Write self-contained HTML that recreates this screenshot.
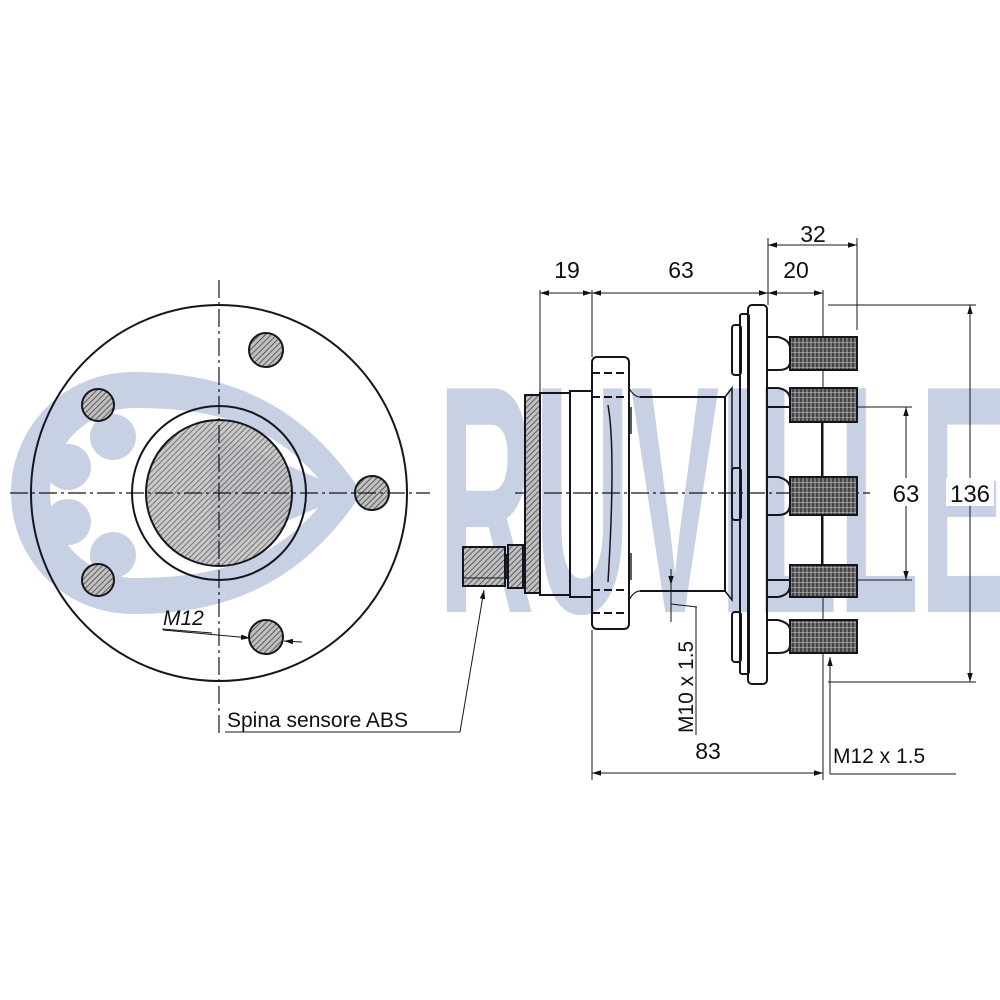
<!DOCTYPE html>
<html><head><meta charset="utf-8"><style>html,body{margin:0;padding:0;background:#fff}svg{display:block}</style></head>
<body>
<svg width="1000" height="1000" viewBox="0 0 1000 1000" xmlns="http://www.w3.org/2000/svg">
<defs>
<pattern id="h" width="4" height="4" patternUnits="userSpaceOnUse" patternTransform="rotate(45)">
<rect width="4" height="4" fill="#c0c0c0"/><line x1="0" y1="0" x2="0" y2="4" stroke="#333" stroke-width="1.4"/></pattern>
<pattern id="t" width="4" height="5" patternUnits="userSpaceOnUse">
<rect width="4" height="5" fill="#777"/><line x1="1" y1="0" x2="1" y2="5" stroke="#222" stroke-width="1.2"/><line x1="0" y1="2.5" x2="4" y2="2.5" stroke="#bbb" stroke-width="0.6"/></pattern>
<marker id="a" viewBox="0 0 10 10" refX="10" refY="5" markerWidth="9" markerHeight="9" orient="auto-start-reverse" markerUnits="userSpaceOnUse"><path d="M0,2 L10,5 L0,8 Z" fill="#111"/></marker>
</defs>
<g fill="#c7d1e3">
<path d="M362,493 C300,400 225,372 132,372 A121,121 0 0 0 132,614 C225,614 300,586 362,493 Z"/>
</g>
<g fill="#fff">
<path d="M330,493 C282,428 222,408 135,408 A85,85 0 0 0 135,578 C222,578 282,558 330,493 Z"/>
</g>
<g fill="#c7d1e3">
<circle cx="113" cy="437" r="23"/><circle cx="68" cy="467" r="23"/><circle cx="68" cy="522" r="23"/><circle cx="113" cy="555" r="23"/>
<path d="M210,432 L352,493 L210,554 Z"/>
<text x="438" y="612" font-family="Liberation Sans, sans-serif" font-weight="bold" font-size="325" textLength="570" lengthAdjust="spacingAndGlyphs">RUVILLE</text>
</g>

<g stroke="#15151f" fill="none" stroke-width="2" font-family="Liberation Sans, sans-serif">
<circle cx="219" cy="493" r="188"/>
<circle cx="219" cy="493" r="87"/>
<circle cx="219" cy="493" r="73" fill="url(#h)" fill-opacity="0.85"/>
<g fill="url(#h)">
<circle cx="266" cy="350" r="17"/><circle cx="98" cy="405" r="16"/><circle cx="372" cy="493" r="17"/><circle cx="98" cy="580" r="16"/><circle cx="266" cy="637" r="17"/>
</g>
<line x1="10" y1="493" x2="430" y2="493" stroke-width="1.2" stroke-dasharray="18,4,3,4"/>
<line x1="219" y1="280" x2="219" y2="735" stroke-width="1.2" stroke-dasharray="18,4,3,4"/>
<line x1="163" y1="630" x2="250" y2="638" stroke-width="1" marker-end="url(#a)"/>
<line x1="284" y1="641" x2="302" y2="642" stroke-width="1" marker-start="url(#a)"/>
<text x="163" y="625" font-size="21" font-style="italic" fill="#111" stroke="none">M12</text>
<line x1="162" y1="629" x2="212" y2="633" stroke-width="1"/>
<text x="227" y="727" font-size="21" fill="#111" stroke="none">Spina sensore ABS</text>
<line x1="225" y1="732" x2="460" y2="732" stroke-width="1"/>
<line x1="460" y1="732" x2="484" y2="590" stroke-width="1" marker-end="url(#a)"/>

<line x1="540" y1="290" x2="540" y2="395" stroke-width="1"/>
<line x1="592" y1="290" x2="592" y2="357" stroke-width="1"/>
<line x1="592" y1="630" x2="592" y2="780" stroke-width="1"/>
<line x1="768" y1="238" x2="768" y2="305" stroke-width="1"/>
<line x1="823" y1="290" x2="823" y2="780" stroke-width="1"/>
<line x1="857" y1="238" x2="857" y2="330" stroke-width="1"/>
<line x1="540" y1="293" x2="592" y2="293" stroke-width="1" marker-start="url(#a)" marker-end="url(#a)"/>
<line x1="592" y1="293" x2="768" y2="293" stroke-width="1" marker-start="url(#a)" marker-end="url(#a)"/>
<line x1="768" y1="293" x2="823" y2="293" stroke-width="1" marker-start="url(#a)" marker-end="url(#a)"/>
<line x1="768" y1="245" x2="857" y2="245" stroke-width="1" marker-start="url(#a)" marker-end="url(#a)"/>
<line x1="592" y1="773" x2="823" y2="773" stroke-width="1" marker-start="url(#a)" marker-end="url(#a)"/>
<line x1="828" y1="305" x2="976" y2="305" stroke-width="1"/>
<line x1="828" y1="682" x2="976" y2="682" stroke-width="1"/>
<line x1="970" y1="305" x2="970" y2="682" stroke-width="1" marker-start="url(#a)" marker-end="url(#a)"/>
<line x1="857" y1="407" x2="912" y2="407" stroke-width="1"/>
<line x1="857" y1="580" x2="912" y2="580" stroke-width="1"/>
<line x1="906" y1="407" x2="906" y2="580" stroke-width="1" marker-start="url(#a)" marker-end="url(#a)"/>
<line x1="515" y1="493" x2="870" y2="493" stroke-width="1.2" stroke-dasharray="18,4,3,4"/>

<rect x="525" y="395" width="15" height="198" fill="url(#h)"/>
<rect x="540" y="393" width="30" height="202"/>
<rect x="570" y="391" width="22" height="206"/>
<rect x="463" y="547" width="42" height="39" fill="url(#h)"/>
<line x1="463" y1="578" x2="505" y2="578" stroke-width="1"/>
<rect x="508" y="545" width="15" height="43" fill="url(#h)"/>
<rect x="505" y="555" width="3" height="23" fill="#222"/>
<rect x="592" y="357" width="37" height="272" rx="5"/>
<path d="M592,373 H629 M592,397 H629 M592,590 H629 M592,613 H629" stroke-dasharray="8,4"/>
<path d="M608,405 Q616,450 608,582" stroke-width="1.5"/>
<path d="M640,397 H725 V591 H640"/>
<path d="M629,388 Q634,397 640,397 M629,600 Q634,591 640,591" stroke-width="1.2"/>
<line x1="631" y1="407" x2="631" y2="434" stroke-width="1.4"/>
<line x1="631" y1="553" x2="631" y2="580" stroke-width="1.4"/>
<path d="M725,397 L732,388 L732,600 L725,591" stroke-width="1.5"/>
<rect x="732" y="325" width="9" height="50" rx="3"/>
<rect x="732" y="468" width="9" height="52" rx="3"/>
<rect x="732" y="612" width="9" height="50" rx="3"/>
<rect x="740" y="314" width="9" height="360" rx="2"/>
<rect x="748" y="305" width="19" height="379" rx="4"/>
<rect x="767" y="407" width="55" height="173"/>
<g>
<path d="M767,337 H778 Q790,340 790,348 V362 Q790,370 778,370 H767"/>
<rect x="790" y="337" width="67" height="33" fill="url(#t)"/>
<path d="M767,388 H778 Q790,390 790,400 V407"/>
<rect x="790" y="388" width="67" height="34" fill="url(#t)"/>
<path d="M767,477 H778 Q790,480 790,488 V504 Q790,515 778,515 H767"/>
<rect x="790" y="477" width="67" height="38" fill="url(#t)"/>
<path d="M767,597 H778 Q790,595 790,585 V580"/>
<rect x="790" y="565" width="67" height="32" fill="url(#t)"/>
<path d="M767,620 H778 Q790,623 790,630 V645 Q790,653 778,653 H767"/>
<rect x="790" y="620" width="67" height="33" fill="url(#t)"/>
</g>
<line x1="671" y1="569" x2="671" y2="622" stroke-width="1"/>
<line x1="671" y1="569" x2="671" y2="585" stroke-width="1" marker-end="url(#a)"/>
<line x1="671" y1="604" x2="697" y2="607" stroke-width="1"/>
<line x1="696" y1="607" x2="696" y2="735" stroke-width="1"/>
<text transform="translate(693,733) rotate(-90)" font-size="21" fill="#111" stroke="none">M10 x 1.5</text>
<line x1="830" y1="774" x2="830" y2="657" stroke-width="1" marker-end="url(#a)"/>
<line x1="830" y1="774" x2="956" y2="774" stroke-width="1"/>
<text x="833" y="763" font-size="21" fill="#111" stroke="none">M12 x 1.5</text>
<g fill="#111" stroke="none" font-size="23">
<text x="567" y="278" text-anchor="middle">19</text>
<text x="681" y="278" text-anchor="middle">63</text>
<text x="796" y="278" text-anchor="middle">20</text>
<text x="813" y="242" text-anchor="middle">32</text>
<text x="708" y="759" text-anchor="middle">83</text>
</g>
<rect x="889" y="478" width="34" height="28" fill="#fff" stroke="none"/>
<rect x="946" y="478" width="48" height="28" fill="#fff" stroke="none" fill-opacity="0.9"/>
<g fill="#111" stroke="none" font-size="24">
<text x="906" y="502" text-anchor="middle">63</text>
<text x="970" y="502" text-anchor="middle">136</text>
</g>
</g>
</svg>
</body></html>
